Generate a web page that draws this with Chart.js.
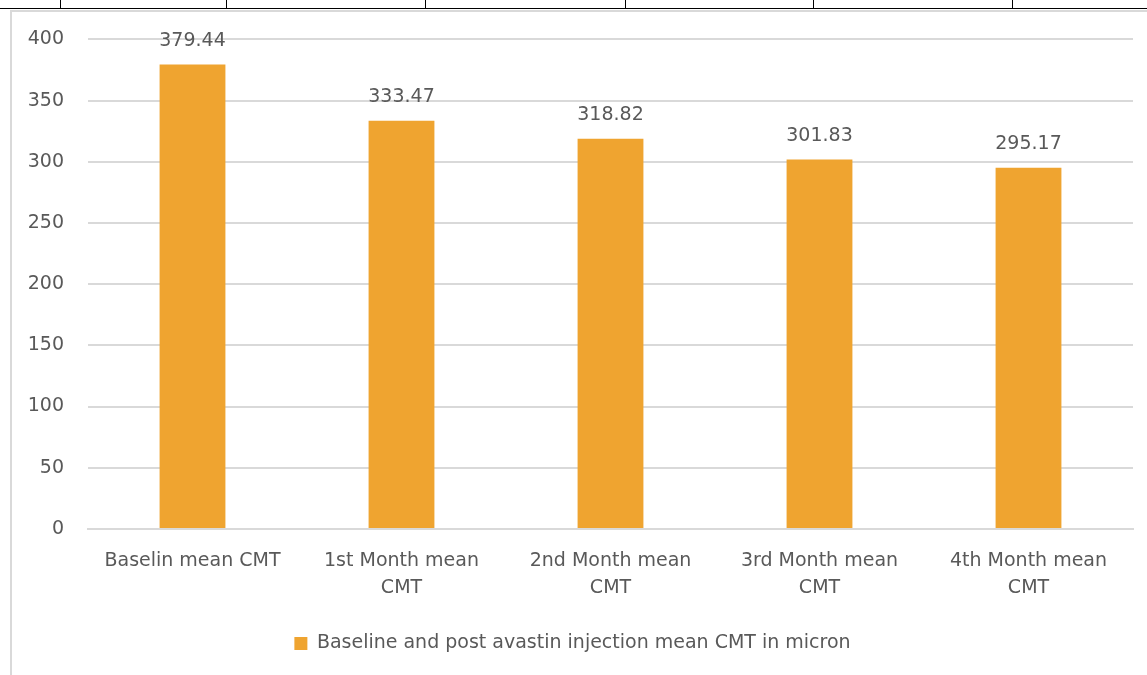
<!DOCTYPE html>
<html>
<head>
<meta charset="utf-8">
<script src="https://cdn.jsdelivr.net/npm/chart.js@4"></script>
<style>
  body { margin: 0; width: 1147px; height: 675px; overflow: hidden; background: #fff; position: relative; }
  .sheetLine { position: absolute; left: 0; top: 8px; width: 1147px; height: 1px; background: #000; }
  .sheetTick { position: absolute; top: 0; width: 1px; height: 8px; background: #000; }
  #box { position: absolute; left: 10px; top: 10px; width: 1145px; height: 670px;
         border-left: 2px solid #d9d9d9; border-top: 2px solid #d9d9d9; box-sizing: border-box; }
  #wrap { position: absolute; left: 0; top: -8px; width: 1133px; height: 671px; }
</style>
</head>
<body>
<div class="sheetLine"></div>
<div class="sheetTick" style="left:60px"></div>
<div class="sheetTick" style="left:226px"></div>
<div class="sheetTick" style="left:425px"></div>
<div class="sheetTick" style="left:625px"></div>
<div class="sheetTick" style="left:813px"></div>
<div class="sheetTick" style="left:1012px"></div>
<div id="box"><div id="wrap"><canvas id="cmtChart"></canvas></div></div>
<script>
const categories = [
    ['Baselin mean CMT'],
    ['1st Month mean', 'CMT'],
    ['2nd Month mean', 'CMT'],
    ['3rd Month mean', 'CMT'],
    ['4th Month mean', 'CMT']
];
const cmtValues = [379.44, 333.47, 318.82, 301.83, 295.17];
const seriesName = 'Baseline and post avastin injection mean CMT in micron';

const textColour = '#595959';
const barColour = 'rgb(239, 164, 48)';
const fontName = 'DejaVu Sans';
const fontSize = 19;

// draws the value above each bar
const valueLabels = {
    id: 'valueLabels',
    afterDatasetsDraw(chart) {
        const ctx = chart.ctx;
        const meta = chart.getDatasetMeta(0);
        ctx.save();
        ctx.font = fontSize + 'px "' + fontName + '"';
        ctx.fillStyle = textColour;
        ctx.textAlign = 'center';
        ctx.textBaseline = 'bottom';
        meta.data.forEach((bar, i) => {
            ctx.fillText(cmtValues[i].toFixed(2), bar.x, bar.y - 14);
        });
        ctx.restore();
    }
};

new Chart(document.getElementById('cmtChart'), {
    type: 'bar',
    data: {
        labels: categories,
        datasets: [{
            label: seriesName,
            data: cmtValues,
            backgroundColor: barColour,
            categoryPercentage: 1,
            barPercentage: 0.315
        }]
    },
    options: {
        responsive: true,
        maintainAspectRatio: false,
        animation: false,
        layout: { padding: { top: 3, right: 12, bottom: 12, left: 0 } },
        scales: {
            x: {
                grid: { display: false },
                border: { color: '#d9d9d9', width: 2 },
                ticks: {
                    color: textColour,
                    font: { family: fontName, size: fontSize, lineHeight: 1.45 },
                    padding: 10,
                    maxRotation: 0,
                    autoSkip: false
                }
            },
            y: {
                min: 0,
                max: 400,
                afterFit(scale) { scale.width = 76; },
                grid: { color: '#d9d9d9', lineWidth: 2, drawTicks: false },
                border: { display: false },
                ticks: {
                    stepSize: 50,
                    color: textColour,
                    font: { family: fontName, size: fontSize },
                    padding: 24
                }
            }
        },
        plugins: {
            legend: {
                position: 'bottom',
                labels: {
                    color: textColour,
                    font: { family: fontName, size: fontSize },
                    boxWidth: 13,
                    boxHeight: 13,
                    padding: 22
                }
            },
            tooltip: { enabled: false }
        }
    },
    plugins: [valueLabels]
});
</script>
</body>
</html>
